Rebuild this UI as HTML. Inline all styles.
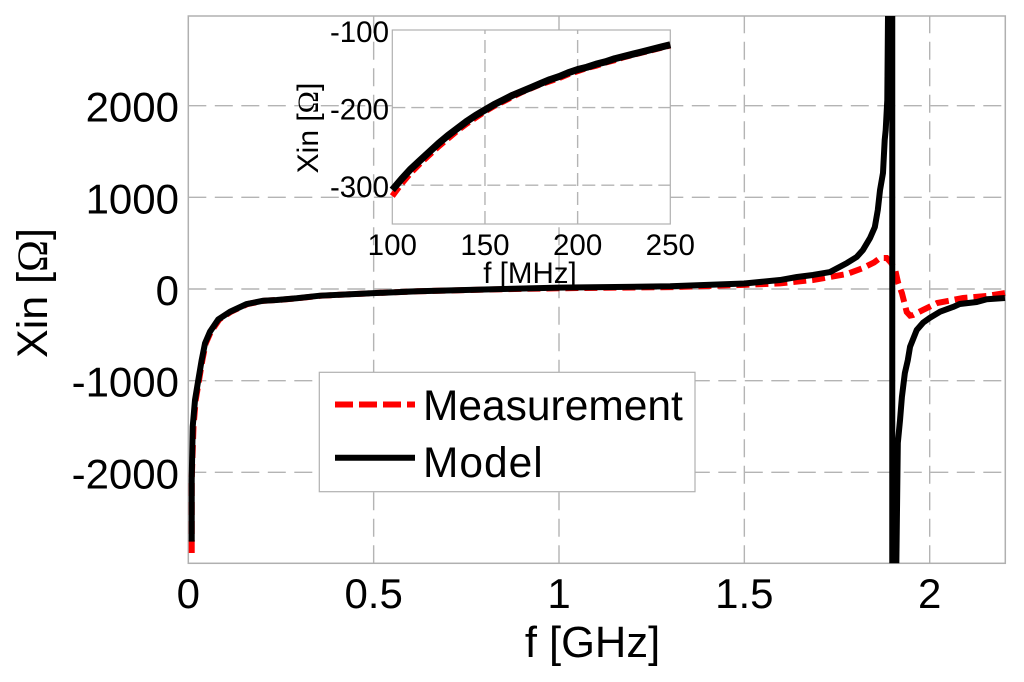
<!DOCTYPE html>
<html lang="en">
<head>
<meta charset="utf-8">
<title>Xin vs frequency</title>
<style>
html,body{margin:0;padding:0;background:#fff;width:1024px;height:682px;overflow:hidden}
svg{display:block}
text{font-family:"Liberation Sans",sans-serif;fill:#000}
.omega{font-family:"Liberation Serif",serif}
</style>
</head>
<body>
<svg id="chart" xmlns="http://www.w3.org/2000/svg" width="1024" height="682" viewBox="0 0 1024 682">
  <defs>
    <clipPath id="main-clip"><rect x="180" y="16" width="828" height="547.3"/></clipPath>
    <clipPath id="inset-clip"><rect x="388" y="30" width="286" height="194"/></clipPath>
  </defs>
  <g id="main-grid"></g>
  <rect x="188.3" y="16" width="817" height="547.3" fill="none" stroke="#b0b0b0" stroke-width="1.5"/>
  <g id="main-series" clip-path="url(#main-clip)"></g>
  <g id="main-ticks" font-size="42"></g>
  <text x="592.5" y="657" font-size="43.5" text-anchor="middle">f [GHz]</text>
  <text transform="translate(47,293) rotate(-90)" font-size="43" text-anchor="middle">Xin [<tspan class="omega">Ω</tspan>]</text>

  <g>
    <rect x="319.3" y="372.3" width="375.7" height="119.4" fill="#fff" stroke="#b0b0b0" stroke-width="1.2"/>
    <line x1="335" y1="404.5" x2="415" y2="404.5" stroke="#ff0000" stroke-width="6" stroke-dasharray="18 6"/>
    <text x="423" y="420" font-size="42.5">Measurement</text>
    <line x1="335" y1="457.7" x2="415" y2="457.7" stroke="#000" stroke-width="6"/>
    <text x="423" y="477" font-size="42.5" letter-spacing="1">Model</text>
  </g>

  <rect x="392.3" y="30" width="278" height="194" fill="#fff"/>
  <g id="inset-grid"></g>
  <rect x="392.3" y="30" width="278" height="194" fill="none" stroke="#b0b0b0" stroke-width="1.2"/>
  <g id="inset-series" clip-path="url(#inset-clip)"></g>
  <g id="inset-ticks" font-size="29.5"></g>
  <text x="530" y="283" font-size="29.5" text-anchor="middle">f [MHz]</text>
  <text transform="translate(318,128) rotate(-90)" font-size="30" text-anchor="middle">Xin [<tspan class="omega">Ω</tspan>]</text>
</svg>
<script>
// Main chart data (frequency in GHz, reactance in ohms)
var mainXTicks = [0, 0.5, 1, 1.5, 2];
var mainXTickLabels = ['0', '0.5', '1', '1.5', '2'];
var mainYTicks = [-2000, -1000, 0, 1000, 2000];
var mainYTickLabels = ['-2000', '-1000', '0', '1000', '2000'];
var modelFreq = [0.0092, 0.0092, 0.0119, 0.0181, 0.027, 0.0361, 0.0451, 0.0585, 0.081, 0.1125, 0.1575, 0.2023, 0.2385, 0.2924, 0.355, 0.43, 0.5, 0.62, 0.85, 1.0, 1.15, 1.3, 1.5, 1.596, 1.642, 1.685, 1.731, 1.777, 1.803, 1.82, 1.839, 1.852, 1.86, 1.866, 1.874, 1.8786, 1.8813, 1.8856, 1.8875, 1.899, 1.899, 1.91, 1.914, 1.92, 1.925, 1.933, 1.941, 1.947, 1.965, 1.982, 2.0, 2.028, 2.063, 2.081, 2.127, 2.154, 2.203];
var modelValues = [-2757, -2084, -1502, -1211, -993, -775, -593, -466, -331, -248, -164, -128, -120, -101, -73, -58, -45, -25, 0, 15, 22, 30, 60, 98, 131, 153, 185, 284, 349, 426, 556, 676, 862, 1080, 1266, 1626, 1735, 2062, 2979, 3600, -3600, -2990, -1680, -1429, -1178, -917, -775, -630, -447, -368, -316, -248, -196, -164, -142, -112, -98];
var measFreq = [0.0092, 0.0092, 0.014, 0.02, 0.029, 0.038, 0.047, 0.061, 0.084, 0.115, 0.16, 0.205, 0.24, 0.295, 0.36, 0.5, 0.62, 0.85, 1.0, 1.15, 1.3, 1.5, 1.596, 1.685, 1.777, 1.82, 1.85, 1.866, 1.884, 1.895, 1.907, 1.915, 1.925, 1.938, 1.947, 1.955, 1.982, 2.02, 2.09, 2.155, 2.203];
var measValues = [-2880, -2084, -1502, -1211, -993, -775, -593, -466, -331, -248, -164, -128, -120, -101, -73, -45, -25, -2, 8, 15, 20, 45, 62, 98, 164, 229, 290, 338, 338, 290, 207, 65, -44, -251, -290, -284, -229, -153, -98, -76, -44];

// Inset data (frequency in MHz, reactance in ohms)
var insetXTicks = [100, 150, 200, 250];
var insetXTickLabels = ['100', '150', '200', '250'];
var insetYTicks = [-100, -200, -300];
var insetYTickLabels = ['-100', '-200', '-300'];
var insetFreq = [100, 105, 110, 115, 120, 125, 130, 135, 140, 145, 150, 155, 160, 165, 170, 175, 180, 185, 190, 195, 200, 205, 210, 215, 220, 225, 230, 235, 240, 245, 250];
var insetModel = [-306, -292, -279, -268, -257, -246, -236, -227, -218, -210, -203, -196, -190, -184, -179, -174, -169, -164, -160, -155, -151, -148, -144, -141, -137, -134, -131, -128, -125, -122, -119];
var insetMeas = [-314, -298, -284, -272, -261, -250, -240, -230, -221, -213, -205, -198, -192, -186, -180, -175, -170, -166, -162, -157, -153, -149, -146, -142, -139, -135, -132, -129, -126, -123, -120];

var NS = 'http://www.w3.org/2000/svg';

function xMain(f) { return 188.3 + f * 370.7; }
function yMain(v) { return 289 - v * 0.09165; }
function xInset(f) { return 392.3 + (f - 100) * 278 / 150; }
function yInset(v) { return 30 + (-100 - v) * 0.776; }

function pathFrom(xs, ys, xFn, yFn) {
  var d = '';
  for (var i = 0; i < xs.length; i++) {
    d += (i ? 'L' : 'M') + xFn(xs[i]).toFixed(2) + ' ' + yFn(ys[i]).toFixed(2);
  }
  return d;
}

function makeLine(parent, x1, y1, x2, y2, dash, dashOffset) {
  var el = document.createElementNS(NS, 'line');
  
  
  el.setAttribute('x1', x1);
  el.setAttribute('y1', y1);
  el.setAttribute('x2', x2);
  el.setAttribute('y2', y2);
  el.setAttribute('stroke', '#b4b4b4');
  el.setAttribute('stroke-width', '1.4');
  el.setAttribute('stroke-dasharray', dash);
  el.setAttribute('stroke-dashoffset', dashOffset);
  parent.appendChild(el);
}

function makeLabel(parent, x, y, anchor, content) {
  var el = document.createElementNS(NS, 'text');
  
  
  el.setAttribute('x', x);
  el.setAttribute('y', y);
  el.setAttribute('text-anchor', anchor);
  el.textContent = content;
  parent.appendChild(el);
}

function makeMeasurement(parent, d, width, dash) {
  var el = document.createElementNS(NS, 'path');
  
  
  el.setAttribute('d', d);
  el.setAttribute('fill', 'none');
  el.setAttribute('stroke', '#ff0000');
  el.setAttribute('stroke-width', width);
  el.setAttribute('stroke-dasharray', dash);
  parent.appendChild(el);
}

function makeModel(parent, d, width) {
  var el = document.createElementNS(NS, 'path');
  
  
  el.setAttribute('d', d);
  el.setAttribute('fill', 'none');
  el.setAttribute('stroke', '#000000');
  el.setAttribute('stroke-width', width);
  el.setAttribute('stroke-linejoin', 'round');
  parent.appendChild(el);
}

var mainGrid = document.getElementById('main-grid');
var mainTicks = document.getElementById('main-ticks');
var i;
for (i = 0; i < mainXTicks.length; i++) {
  if (mainXTicks[i] !== 0) {
    makeLine(mainGrid, xMain(mainXTicks[i]), 563.3, xMain(mainXTicks[i]), 16, '18 8.5', 0);
  }
  makeLabel(mainTicks, xMain(mainXTicks[i]), 608, 'middle', mainXTickLabels[i]);
}
for (i = 0; i < mainYTicks.length; i++) {
  makeLine(mainGrid, 188.3, yMain(mainYTicks[i]), 1005.3, yMain(mainYTicks[i]), '18 8.5', 0);
  makeLabel(mainTicks, 179, yMain(mainYTicks[i]) + 16, 'end', mainYTickLabels[i]);
}
var mainSeries = document.getElementById('main-series');
makeMeasurement(mainSeries, pathFrom(measFreq, measValues, xMain, yMain), 6, '13 6');
makeModel(mainSeries, pathFrom(modelFreq, modelValues, xMain, yMain), 6);

var insetGrid = document.getElementById('inset-grid');
var insetTicks = document.getElementById('inset-ticks');
for (i = 0; i < insetXTicks.length; i++) {
  if (i > 0 && i < insetXTicks.length - 1) {
    makeLine(insetGrid, xInset(insetXTicks[i]), 224, xInset(insetXTicks[i]), 30, '13 6', 0);
  }
  makeLabel(insetTicks, xInset(insetXTicks[i]), 255, 'middle', insetXTickLabels[i]);
}
for (i = 0; i < insetYTicks.length; i++) {
  if (i > 0) {
    makeLine(insetGrid, 392.3, yInset(insetYTicks[i]), 670.3, yInset(insetYTicks[i]), '13 6', 0);
  }
  makeLabel(insetTicks, 389, yInset(insetYTicks[i]) + 12, 'end', insetYTickLabels[i]);
}
var insetSeries = document.getElementById('inset-series');
makeMeasurement(insetSeries, pathFrom(insetFreq, insetMeas, xInset, yInset), 6, '11 5');
makeModel(insetSeries, pathFrom(insetFreq, insetModel, xInset, yInset), 7);
</script>
</body>
</html>
